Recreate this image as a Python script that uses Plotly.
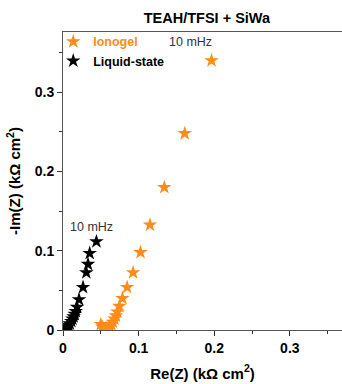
import plotly.graph_objects as go

# Ionogel (orange) Nyquist data, kOhm cm2
iono_re = [0.050, 0.052, 0.054, 0.056, 0.058, 0.060, 0.062, 0.064, 0.066, 0.068,
           0.070, 0.072, 0.0745, 0.0786, 0.0848, 0.0927, 0.1025, 0.115, 0.134, 0.161, 0.1965]
iono_im = [0.007, 0.004, 0.002, 0.002, 0.002, 0.003, 0.005, 0.007, 0.010, 0.014,
           0.018, 0.023, 0.030, 0.040, 0.0539, 0.0724, 0.098, 0.1326, 0.180, 0.248, 0.340]

# Liquid-state (black)
liq_re = [0.0015, 0.003, 0.0045, 0.006, 0.0075, 0.009, 0.011, 0.0125, 0.014, 0.0155,
          0.0168, 0.0186, 0.0212, 0.0265, 0.0309, 0.0331, 0.0353, 0.0442]
liq_im = [0.000, 0.001, 0.002, 0.004, 0.006, 0.008, 0.011, 0.014, 0.017, 0.020,
          0.0235, 0.029, 0.0384, 0.0539, 0.0724, 0.083, 0.0968, 0.1115]

ORANGE = "#ff8c1a"
FONT = "Liberation Sans, Arial"

fig = go.Figure()
fig.add_trace(go.Scatter(x=iono_re, y=iono_im, mode="markers",
                         name='<b><span style="color:#ff8c1a">Ionogel</span></b>',
                         marker=dict(symbol="star", size=11, color=ORANGE, line=dict(width=0))))
fig.add_trace(go.Scatter(x=liq_re, y=liq_im, mode="markers",
                         name="<b>Liquid-state</b>",
                         marker=dict(symbol="star", size=11, color="black", line=dict(width=0))))

fig.add_annotation(x=0.168, y=0.363, text="10 mHz", showarrow=False,
                   font=dict(size=12.5, color="#333333", family=FONT))
fig.add_annotation(x=0.0376, y=0.130, text="10 mHz", showarrow=False,
                   font=dict(size=12.5, color="#333333", family=FONT))

axis_common = dict(
    showgrid=False, zeroline=False, showline=True, linecolor="#555555", linewidth=1,
    ticks="outside", ticklen=5, tickcolor="#333333", tickwidth=1, automargin=False,
    tickfont=dict(size=14, color="black", family=FONT),
)

fig.update_xaxes(range=[0, 0.369], tickvals=[0, 0.1, 0.2, 0.3],
                 ticktext=["<b>0</b>", "<b>0.1</b>", "<b>0.2</b>", "<b>0.3</b>"],
                 mirror=True,
                 minor=dict(ticks="outside", ticklen=3, dtick=0.05, tick0=0, tickcolor="#333333"),
                 title=dict(text="<b>Re(Z) (kΩ cm<sup>2</sup>)</b>",
                            font=dict(size=15, color="black", family=FONT), standoff=13),
                 **axis_common)
fig.update_yaxes(range=[0, 0.376], tickvals=[0, 0.1, 0.2, 0.3],
                 ticktext=["<b>0</b>", "<b>0.1</b>", "<b>0.2</b>", "<b>0.3</b>"],
                 minor=dict(ticks="outside", ticklen=3, dtick=0.05, tick0=0, tickcolor="#333333"),
                 title=dict(text="<b>-Im(Z) (kΩ cm<sup>2</sup>)</b>",
                            font=dict(size=15, color="black", family=FONT), standoff=10),
                 **axis_common)

fig.update_layout(
    width=342, height=384,
    margin=dict(l=63, r=0, t=32, b=54, autoexpand=False),
    plot_bgcolor="white", paper_bgcolor="white",
    title=dict(text="<b>TEAH/TFSI + SiWa</b>", x=0.605, xanchor="center", y=0.953, yanchor="middle",
               font=dict(size=14.5, color="black", family=FONT)),
    legend=dict(x=-0.035, y=1.017, xanchor="left", yanchor="top", bgcolor="rgba(0,0,0,0)",
                font=dict(size=12.5, color="black", family=FONT),
                itemwidth=30, tracegroupgap=0),
    showlegend=True,
    font=dict(family=FONT),
)

fig.write_html("out.html", post_script="document.body.style.margin='0';",
               config={"displayModeBar": False})
